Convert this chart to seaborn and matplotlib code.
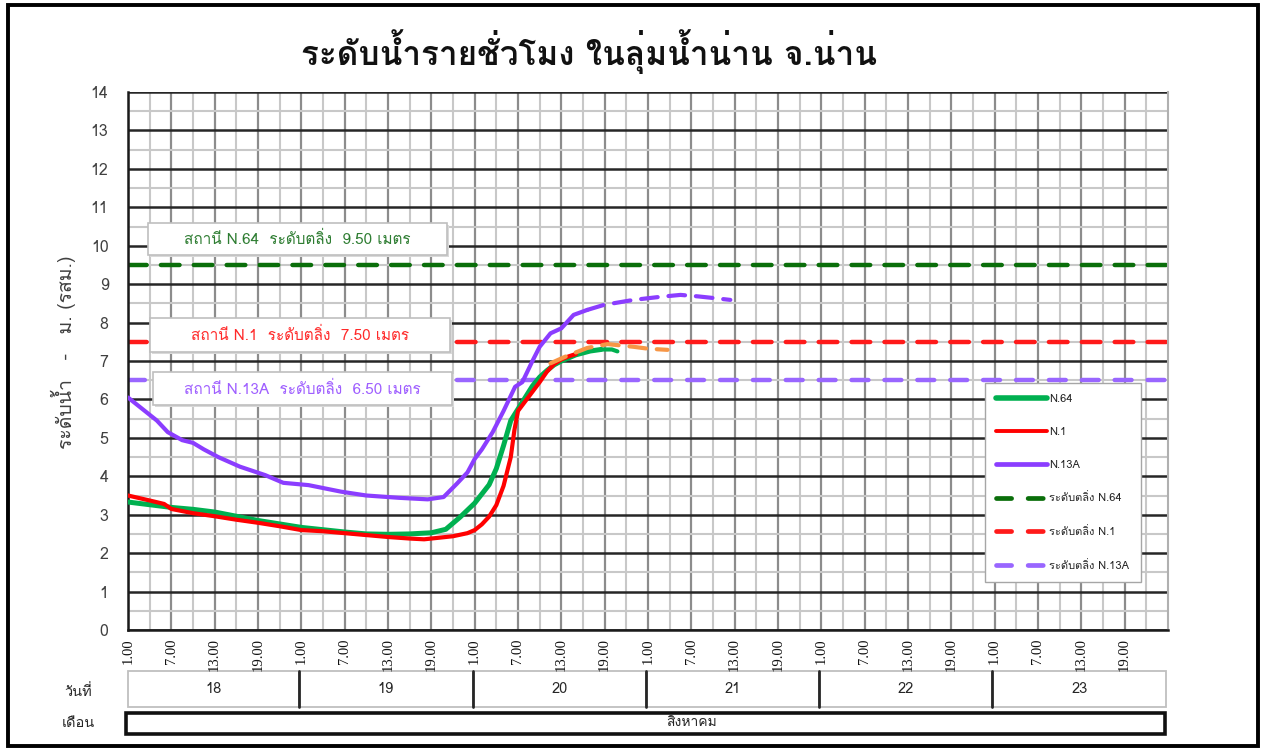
import numpy as np
import pandas as pd
import matplotlib
matplotlib.use("Agg")
import matplotlib.pyplot as plt
import seaborn as sns
from matplotlib import font_manager
from matplotlib.ft2font import FT2Font
from matplotlib.patches import Rectangle
from matplotlib.lines import Line2D
from matplotlib.ticker import MultipleLocator, FixedLocator

# ---------------- data (hour index 0 = day 18, 01.00) ----------------
h_n64 = [0, 3, 6, 9, 12, 15, 18, 21, 24, 27, 30, 33, 36, 39, 42, 44, 46, 48, 50, 51, 52, 53, 54, 55, 56, 57, 58, 59, 60, 62, 64, 65.5]
v_n64 = [3.33, 3.26, 3.19, 3.14, 3.07, 2.96, 2.85, 2.76, 2.67, 2.61, 2.55, 2.50, 2.49, 2.50, 2.53, 2.62, 2.94, 3.30, 3.78, 4.20, 4.80, 5.45, 5.75, 6.05, 6.35, 6.58, 6.75, 6.90, 7.00, 7.16, 7.26, 7.30]
h_n64_fc = [65.5, 67, 69]
v_n64_fc = [7.30, 7.30, 7.17]

h_n1 = [0, 3, 5, 6, 9, 12, 15, 18, 21, 24, 27, 30, 33, 36, 39, 41, 43, 45, 47, 48, 49, 50, 51, 52, 53, 53.5, 54, 55, 56, 57, 58, 59, 60, 61, 62]
v_n1 = [3.50, 3.37, 3.28, 3.15, 3.04, 2.96, 2.87, 2.79, 2.70, 2.60, 2.57, 2.52, 2.47, 2.42, 2.38, 2.36, 2.40, 2.44, 2.52, 2.60, 2.75, 2.95, 3.25, 3.75, 4.50, 5.20, 5.70, 5.95, 6.20, 6.45, 6.72, 6.92, 7.04, 7.12, 7.18]
h_n1_fc = [58.5, 61, 63.6, 66.4, 70, 72, 74.7]
v_n1_fc = [6.94, 7.15, 7.34, 7.44, 7.37, 7.32, 7.29]

h_n13a = [0, 2, 4, 5.5, 7.5, 9, 10.5, 12.5, 15.5, 19, 21.5, 25, 29.5, 33, 37.5, 41.5, 43.7, 45.5, 47, 48, 49, 50.5, 52, 53.6, 54.6, 56, 57, 58.5, 60, 61.7, 63.6]
v_n13a = [6.05, 5.75, 5.45, 5.15, 4.94, 4.87, 4.70, 4.50, 4.25, 4.03, 3.83, 3.77, 3.60, 3.50, 3.44, 3.40, 3.46, 3.80, 4.10, 4.45, 4.70, 5.15, 5.70, 6.33, 6.45, 7.00, 7.37, 7.72, 7.85, 8.20, 8.33]
h_n13a_fc = [63.6, 65.9, 70, 73.7, 76.5, 79, 81, 83.4]
v_n13a_fc = [8.33, 8.46, 8.59, 8.67, 8.72, 8.68, 8.64, 8.59]

bank_levels = [9.5, 7.5, 6.5]
stations = ["N.64", "N.1", "N.13A"]
days = ["18", "19", "20", "21", "22", "23"]
hour_labels = ["1.00", "7.00", "13.00", "19.00"]
month_label = "สิงหาคม"
title = "ระดับน้ำรายชั่วโมง ในลุ่มน้ำน่าน จ.น่าน"
ylabel = "ระดับน้ำ   -   ม. (รสม.)"

# ---------------- fonts ----------------
thai_fonts = {}
for f in font_manager.fontManager.ttflist:
    try:
        if 0x0E23 in FT2Font(f.fname).get_charmap():
            thai_fonts.setdefault(f.name, set()).add(str(f.weight))
    except Exception:
        pass
pref = ["Tahoma", "Loma", "Noto Sans Thai", "Noto Sans Thai UI", "Sarabun", "Garuda"]
thai = None
for p in pref:
    if p in thai_fonts and any(w in ("700", "bold") for w in thai_fonts[p]):
        thai = p
        break
if thai is None:
    for p in pref:
        if p in thai_fonts:
            thai = p
            break

sns.set_theme(style="white")
fam = ([thai] if thai else []) + ["DejaVu Sans"]
plt.rcParams["font.family"] = fam

W, H = 1265, 748
fig = plt.figure(figsize=(W / 100, H / 100), dpi=100)
fig.patch.set_facecolor("white")

def fx(px):
    return px / W

def fy(py):
    return 1 - py / H

ax = fig.add_axes([fx(128), fy(630), fx(1168) - fx(128), fy(92) - fy(630)])
ax.set_zorder(3)
ax.set_xlim(0, 144)
ax.set_ylim(0, 14)
ax.set_facecolor("white")

# grid
ax.yaxis.set_major_locator(MultipleLocator(1))
ax.yaxis.set_minor_locator(MultipleLocator(0.5))
xt = list(range(0, 144, 6))
ax.xaxis.set_major_locator(FixedLocator(xt))
ax.xaxis.set_minor_locator(FixedLocator(list(range(3, 144, 6))))
ax.set_xticklabels(hour_labels * 6, rotation=90, fontsize=10.5,
                   family=["Liberation Serif", "DejaVu Serif"], color="#111111")
ax.set_axisbelow(True)
ax.grid(which="major", axis="y", color="#262626", lw=1.8)
ax.grid(which="minor", axis="y", color="#c8c8c8", lw=1.5)
ax.grid(which="major", axis="x", color="#8c8c8c", lw=1.6)
ax.grid(which="minor", axis="x", color="#c8c8c8", lw=1.5)
ax.spines["top"].set_visible(False)
ax.spines["right"].set_color("#b0b0b0")
ax.spines["right"].set_linewidth(1.5)
for s in ["left", "bottom"]:
    ax.spines[s].set_color("#1a1a1a")
    ax.spines[s].set_linewidth(1.8)
ax.tick_params(axis="y", which="major", direction="out", length=6, width=1.6,
               color="#1a1a1a", labelsize=11.5, labelcolor="#404040", pad=8)
ax.tick_params(axis="y", which="minor", direction="in", length=5, width=1.6,
               color="#1a1a1a")
ax.tick_params(axis="x", which="major", direction="out", length=3, width=1.2,
               color="#1a1a1a", pad=3)
ax.tick_params(axis="x", which="minor", length=0)

# bank levels
bank_cols = ["#0a6e0a", "#ff1a1a", "#9966ff"]
bank_dash = [(4.2, 3.2), (4.2, 3.2), (3.8, 3.6)]
for lvl, c, d in zip(bank_levels, bank_cols, bank_dash):
    ln = ax.axhline(lvl, color=c, lw=3.2, zorder=2)
    ln.set_dashes(d)
    ln.set_dash_capstyle("round")

def draw(x, y, color, lw, dashed=False, z=3):
    sns.lineplot(x=x, y=y, ax=ax, color=color, lw=lw, zorder=z, sort=False, legend=False)
    ln = ax.lines[-1]
    ln.set_solid_capstyle("round")
    if dashed:
        ln.set_dashes((4.0, 2.6))
        ln.set_dash_capstyle("round")
    return ln

draw(h_n64, v_n64, "#00b050", 3.6)
draw(h_n1, v_n1, "#ff0000", 3.0)
draw(h_n13a, v_n13a, "#8b3dff", 3.0)
draw(h_n64_fc, v_n64_fc, "#00b050", 3.0, dashed=True)
draw(h_n1_fc, v_n1_fc, "#f79646", 3.0, dashed=True, z=4)
draw(h_n13a_fc, v_n13a_fc, "#8b3dff", 3.0, dashed=True)

# legend
handles = [
    Line2D([], [], color="#00b050", lw=4.0),
    Line2D([], [], color="#ff0000", lw=2.8),
    Line2D([], [], color="#8b3dff", lw=3.4),
    Line2D([], [], color="#0a6e0a", lw=3.4, dashes=(3.2, 3.5), dash_capstyle="round"),
    Line2D([], [], color="#ff1a1a", lw=3.4, dashes=(3.2, 3.5), dash_capstyle="round"),
    Line2D([], [], color="#9966ff", lw=3.4, dashes=(3.2, 3.5), dash_capstyle="round"),
]
labels = stations + ["ระดับตลิ่ง " + s for s in stations]
leg = ax.legend(handles, labels, loc="upper left", bbox_to_anchor=(fx(985), fy(383)),
                bbox_transform=fig.transFigure, fontsize=8, handlelength=4.6,
                labelspacing=2.05, handletextpad=0.2, borderpad=1.0, borderaxespad=0,
                frameon=True, fancybox=False, edgecolor="#a6a6a6", framealpha=1)
leg.get_frame().set_linewidth(1.0)

# annotation boxes
ann = [
    (148, 223, 447, 255, "สถานี N.64  ระดับตลิ่ง  9.50 เมตร", "#2e7d32"),
    (150, 318, 450, 352, "สถานี N.1  ระดับตลิ่ง  7.50 เมตร", "#ff2a2a"),
    (153, 372, 452, 405, "สถานี N.13A  ระดับตลิ่ง  6.50 เมตร", "#9f5fff"),
]
for x0, y0, x1, y1, txt, c in ann:
    fig.add_artist(Rectangle((fx(x0 + 2), fy(y1 + 2)), fx(x1) - fx(x0), fy(y0) - fy(y1),
                             transform=fig.transFigure, fc="#d9d9d9", ec="none", zorder=5))
    fig.add_artist(Rectangle((fx(x0), fy(y1)), fx(x1) - fx(x0), fy(y0) - fy(y1),
                             transform=fig.transFigure, fc="white", ec="#bfbfbf", lw=1.2, zorder=6))
    fig.text(fx((x0 + x1) / 2), fy((y0 + y1) / 2), txt, ha="center", va="center",
             fontsize=11, color=c, zorder=7)

# title and y label
fig.text(fx(589), fy(52), title, ha="center", va="center", fontsize=24, fontweight="bold", color="#111111")
fig.text(fx(63), fy(352), ylabel, rotation=90, ha="center", va="center", fontsize=14, color="#404040")

# date table
tab = fig.add_axes([fx(128), fy(734), fx(1168) - fx(128), fy(671) - fy(734)])
tab.set_zorder(1)
tab.set_xlim(0, 144)
tab.set_ylim(0, 1)
tab.axis("off")
drow = (734 - 707) / 63
mrow = (734 - 713) / 63
for i, d in enumerate(days):
    x0 = max(0, i * 24 - 0.3)
    x1 = min(143.8, (i + 1) * 24 - 0.3)
    tab.add_patch(Rectangle((x0, drow), x1 - x0, 1 - drow, fc="white", ec="#bfbfbf", lw=1.3, clip_on=False))
    tab.text((x0 + x1) / 2, (1 + drow) / 2, d, ha="center", va="center", fontsize=10.5, color="#262626")
for i in range(1, 6):
    tab.plot([i * 24 - 0.3] * 2, [drow, 1], color="#262626", lw=2.0, clip_on=False)
tab.add_patch(Rectangle((-0.3, 0), 143.9, mrow, fc="white", ec="#111111", lw=2.6, clip_on=False))
tab.text((692 - 128) / 7.222, mrow / 2, month_label, ha="center", va="center", fontsize=10, color="#262626")
fig.text(fx(78), fy(692), "วันที่", ha="center", va="center", fontsize=10.5, color="#262626")
fig.text(fx(78), fy(723), "เดือน", ha="center", va="center", fontsize=10.5, color="#262626")

# outer border
fig.add_artist(Rectangle((fx(8), fy(746)), fx(1258) - fx(8), fy(5) - fy(746),
                         transform=fig.transFigure, fill=False, ec="#000000", lw=2.8, zorder=10))

fig.savefig("out.png", dpi=100, facecolor="white")
